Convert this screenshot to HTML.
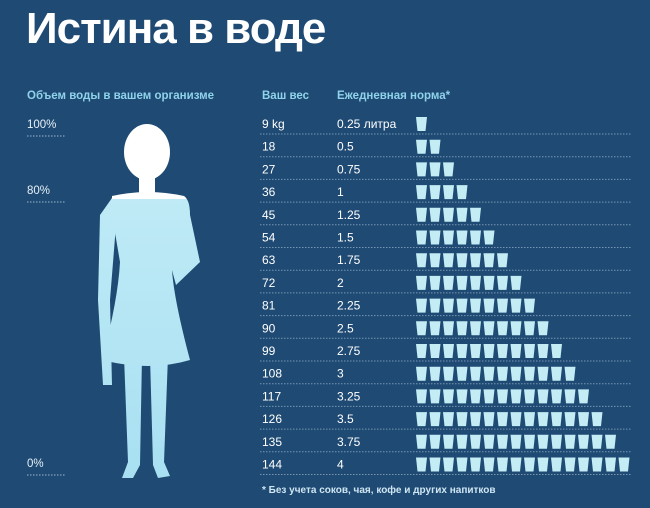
<!DOCTYPE html>
<html><head><meta charset="utf-8">
<style>
body{margin:0;width:650px;height:508px;background:#1f4a73;font-family:"Liberation Sans",sans-serif;overflow:hidden;position:relative;color:#fff}
.t{position:absolute;white-space:nowrap}
</style></head><body>
<div class="t" style="left:26px;top:4px;font-size:44px;font-weight:bold;letter-spacing:-1px">Истина в воде</div>
<div class="t" style="left:27px;top:90px;font-size:11.5px;font-weight:bold;color:#8fd3ea">Объем воды в вашем организме</div>
<div class="t" style="left:262px;top:90px;font-size:11.5px;font-weight:bold;color:#8fd3ea">Ваш вес</div>
<div class="t" style="left:337px;top:90px;font-size:11.5px;font-weight:bold;color:#8fd3ea">Ежедневная норма*</div>
<div class="t" style="left:262px;top:485px;font-size:10px;font-weight:bold;color:#cfe6f3">* Без учета соков, чая, кофе и других напитков</div>
<svg id="c" width="650" height="508" style="position:absolute;left:0;top:0">
<defs><linearGradient id="g" gradientUnits="userSpaceOnUse" x1="0" y1="120" x2="0" y2="480">
<stop offset="0.22" stop-color="#ffffff"/><stop offset="0.22" stop-color="#bfeaf6"/><stop offset="1" stop-color="#a8e0f2"/></linearGradient></defs>
<g fill="url(#g)">
<ellipse cx="147" cy="152" rx="23" ry="28"/>
<rect x="139" y="172" width="16" height="25"/>
<path d="M112,196 Q147,188 184,196 Q190,200 190,215 L200,262 L176,285 L172,270 Q174,300 190,360 Q150,372 102,360 Q118,300 120,262 L112,215 Z"/>
<path d="M112,198 L100,215 L98,300 L103,385 L112,385 L110,300 L116,225 Z"/>
<path d="M124,356 L142,356 L140,465 L133,478 L122,478 L128,462 Z"/>
<path d="M150,356 L168,356 L164,462 L170,476 L158,478 L153,465 Z"/>
</g>
</svg>
<script>
const weights=["9 kg","18","27","36","45","54","63","72","81","90","99","108","117","126","135","144"];
const norms=["0.25 литра","0.5","0.75","1","1.25","1.5","1.75","2","2.25","2.5","2.75","3","3.25","3.5","3.75","4"];
const glasses=[1,2,3,4,5,6,7,8,9,10,11,12,13,14,15,16];
const pctLabels=["100%","80%","0%"];
const pctValues=[100,80,0];
const svg=document.getElementById('c');const NS='http://www.w3.org/2000/svg';
const rowY=i=>124+i*22.7;
const pctY=v=>v>=80?124+(100-v)/20*66:463-v/80*273;
function mk(tag,attrs){const e=document.createElementNS(NS,tag);for(const k in attrs)e.setAttribute(k,attrs[k]);svg.appendChild(e);return e;}
weights.forEach((w,i)=>{const y=rowY(i);
 let t=mk('text',{x:262,y:y+4,'font-size':12,fill:'#fff'});t.textContent=w;
 
 t=mk('text',{x:337,y:y+4,'font-size':12,fill:'#fff'});t.textContent=norms[i];
 
 const l=mk('line',{x1:260,x2:632,y1:y+10,y2:y+10,stroke:'#9bb7cf','stroke-width':1,'stroke-dasharray':'1.5 1.5',opacity:0.7});
 
 for(let k=0;k<glasses[i];k++){const x=416+k*13.5;
  const p=mk('path',{d:`M${x},${y-7} L${x+11},${y-7} L${x+9.5},${y+7} L${x+1.5},${y+7} Z`,fill:'#c3ecf5'});
  }
});
pctValues.forEach((v,i)=>{const y=pctY(v);
 const t=mk('text',{x:27,y:y+4,'font-size':11.5,fill:'#e6f0f7'});t.textContent=pctLabels[i];
 
 const l=mk('line',{x1:27,x2:65,y1:y+12,y2:y+12,stroke:'#9bb7cf','stroke-dasharray':'1.5 1.5'});
 
});
</script>
</body></html>
